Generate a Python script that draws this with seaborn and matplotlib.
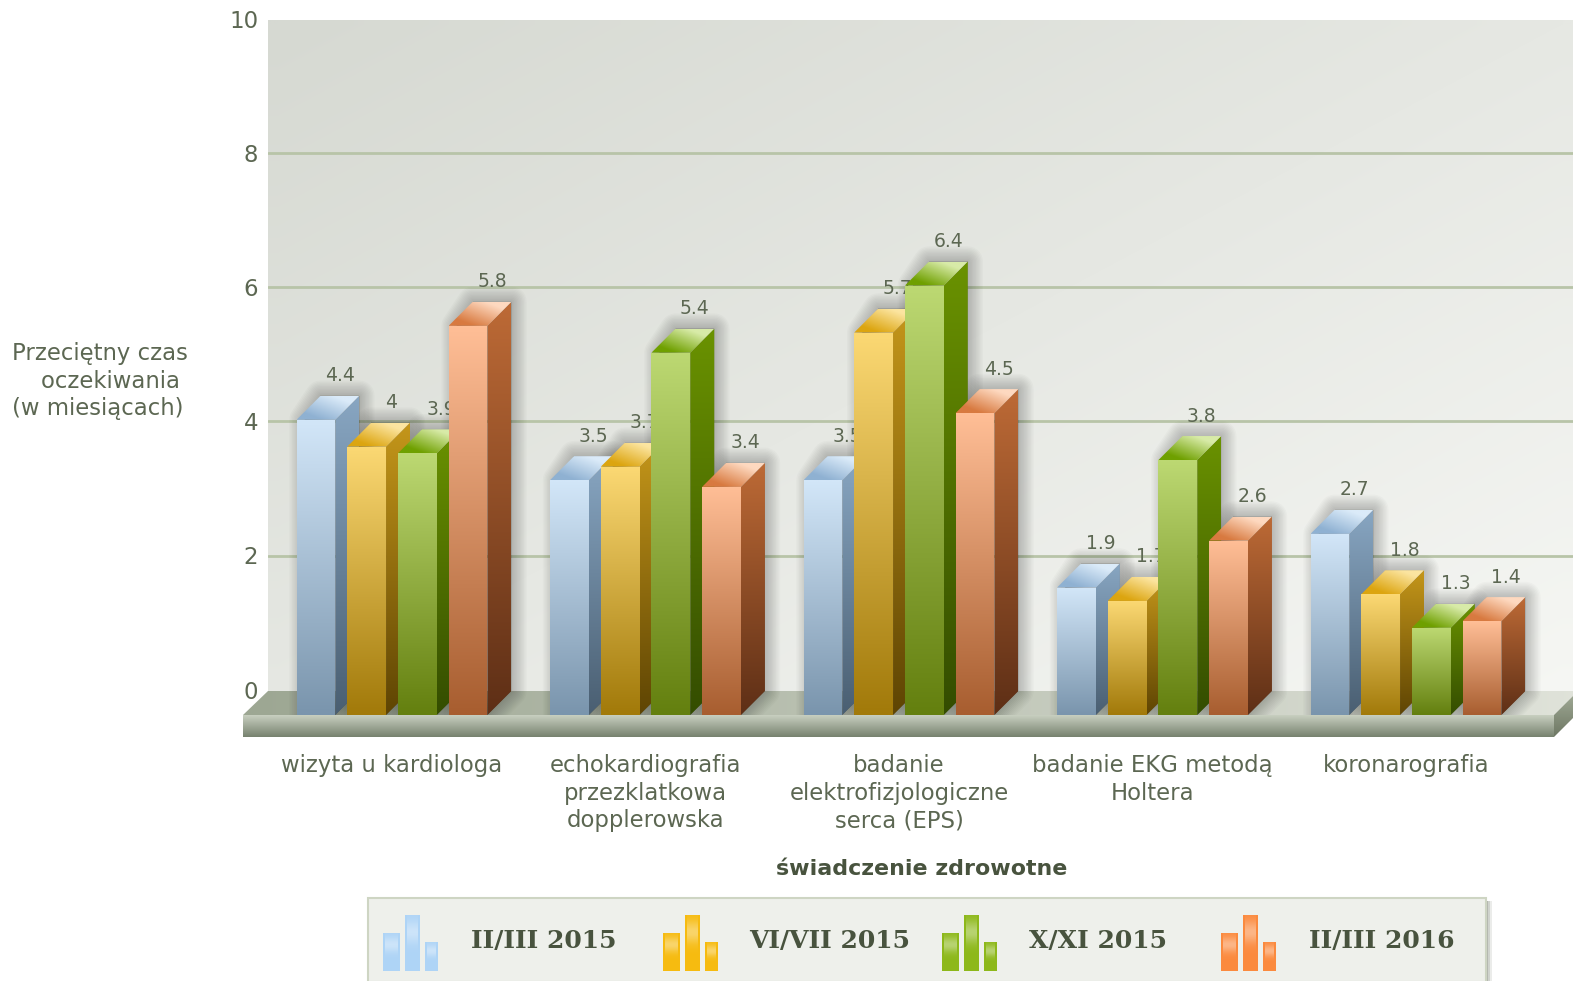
import numpy as np
import pandas as pd
import seaborn as sns
import matplotlib
matplotlib.use("Agg")
import matplotlib.pyplot as plt
from matplotlib.colors import to_rgb
from matplotlib.patches import Polygon, Rectangle

# chart values
uslugi = ["wizyta u kardiologa",
          "echokardiografia\nprzezklatkowa\ndopplerowska",
          "badanie\nelektrofizjologiczne\nserca (EPS)",
          "badanie EKG metodą\nHoltera",
          "koronarografia"]
okresy = ["II/III 2015", "VI/VII 2015", "X/XI 2015", "II/III 2016"]
w_2015_03 = [4.4, 3.5, 3.5, 1.9, 2.7]
w_2015_07 = [4, 3.7, 5.7, 1.7, 1.8]
w_2015_11 = [3.9, 5.4, 6.4, 3.8, 1.3]
w_2016_03 = [5.8, 3.4, 4.5, 2.6, 1.4]
y_ticks = [0, 2, 4, 6, 8, 10]

# colours of each series: front top/bottom, side top/bottom, roof dark/light, legend
kolory = [
    ("#d2e6f8", "#7a95ad", "#88a6c2", "#4a5f72", "#8fb1d2", "#dbebf9", "#aed4f6"),
    ("#fbd873", "#a27a0a", "#c4961a", "#5f4503", "#dca510", "#fce5a0", "#f6bb10"),
    ("#bcd872", "#64800f", "#6a9200", "#344d00", "#6fa000", "#d8eba8", "#8db81a"),
    ("#ffbe96", "#a85e30", "#bd6a36", "#5e2f16", "#d87a40", "#fed9c0", "#fb8a3e"),
]
tekst = "#5c6752"

W, H = 1573, 981
PX_Y = 67.1       # pixels per month
Y0 = 715          # pixel row of the front base
GX = 253.5        # pixels per category
CX = 392          # pixel column of first category
LEFT, TOP = 268, 19.5
DEPTH = 24

fig = plt.figure(figsize=(W / 100, H / 100), dpi=100, facecolor="white")
sns.set_style("white")
plt.rcParams["font.family"] = ["DejaVu Sans"]
ax = fig.add_axes([LEFT / W, 1 - Y0 / H, (W - LEFT) / W, (Y0 - TOP) / H])

df = pd.DataFrame({
    "usluga": uslugi * 4,
    "okres": np.repeat(okresy, 5),
    "czas": w_2015_03 + w_2015_07 + w_2015_11 + w_2016_03,
})
sns.barplot(data=df, x="usluga", y="czas", hue="okres", order=uslugi, hue_order=okresy,
            palette=[k[6] for k in kolory], width=0.8, gap=0.235, legend=False,
            errorbar=None, ax=ax)

xlim = ((LEFT - CX) / GX, (W - CX) / GX)
ylim = (0, (Y0 - TOP) / PX_Y)
dx = DEPTH / GX
dy = DEPTH / PX_Y
wall = 25.3 / PX_Y   # gridlines lie on the back wall


def px_x(p):
    return (p - CX) / GX


def px_y(p):
    return (Y0 - p) / PX_Y


def grad(verts, c0, c1, kier="v", z=3, poza=False):
    # gradient clipped to a polygon
    # v = top to bottom, h = left to right, d = lower left to upper right, w = upper left to lower right
    verts = np.array(verts)
    x0, x1 = verts[:, 0].min(), verts[:, 0].max()
    y0, y1 = verts[:, 1].min(), verts[:, 1].max()
    n = 64
    u, v = np.meshgrid(np.linspace(0, 1, n), np.linspace(0, 1, n))
    if kier == "v":
        t = v
    elif kier == "h":
        t = u
    elif kier == "w":
        t = (u + v) / 2
    else:
        t = np.clip(((u + (1 - v)) / 2 - 0.2) / 0.6, 0, 1)
    c0, c1 = np.array(to_rgb(c0)), np.array(to_rgb(c1))
    img = c0 + (c1 - c0) * t[..., None]
    im = ax.imshow(img, extent=(x0, x1, y0, y1), origin="upper", aspect="auto", zorder=z,
                   interpolation="bilinear")
    im.set_clip_path(Polygon(verts, transform=ax.transData))
    if poza:
        im.set_clip_box(fig.bbox)
    return im


# back wall
grad([(xlim[0], 0), (xlim[1], 0), (xlim[1], ylim[1]), (xlim[0], ylim[1])],
     "#d6d9d2", "#f6f7f4", "w", z=0)

# floor
xa, xb = px_x(243), px_x(1554)
grad([(xa, 0), (xb, 0), (xb + dx, dy), (xlim[1] + dx, dy), (xlim[0], dy)],
     "#9da793", "#e0e3da", "h", z=1, poza=True)
grad([(xa, 0), (xb, 0), (xb, px_y(737)), (xa, px_y(737))], "#c8cfc0", "#77826f", "v", z=2, poza=True)
grad([(xb, 0), (xb + dx, dy), (xb + dx, dy + px_y(737)), (xb, px_y(737))],
     "#a3ac98", "#6e7864", "v", z=2, poza=True)

# 3D bars built on what seaborn drew
for i, kont in enumerate(ax.containers):
    k = kolory[i]
    for j, bar in enumerate(kont):
        x, w, h = bar.get_x(), bar.get_width(), bar.get_height()
        z = 4 + i + j * 0.01
        bar.set_zorder(z)
        bar.set_linewidth(0)

        # soft shadow on the wall behind the bar
        xs = x + 8 / GX
        zarys = [(xs, 0), (xs, h), (x + dx, h + dy), (x + w + dx, h + dy), (x + w + dx, dy), (x + w, 0)]
        for lw in range(2, 24, 2):
            ax.add_patch(Polygon(zarys, closed=True, facecolor="black", edgecolor="black", lw=lw,
                                 alpha=0.02, joinstyle="round", zorder=3))

        grad([(x, 0), (x + w, 0), (x + w, h), (x, h)], k[0], k[1], "v", z=z + 0.003)
        grad([(x + w, 0), (x + w + dx, dy), (x + w + dx, h + dy), (x + w, h)], k[2], k[3], "v", z=z + 0.002)
        grad([(x, h), (x + w, h), (x + w + dx, h + dy), (x + dx, h + dy)], k[4], k[5], "d", z=z + 0.002)
        ax.text(x + w / 2 + dx, h + dy + 20 / PX_Y, f"{h:g}", ha="center", va="center",
                fontsize=13.5, color=tekst, zorder=z + 0.004)

ax.set_xlim(xlim)
ax.set_ylim(ylim)
for s in ax.spines.values():
    s.set_visible(False)

ax.set_yticks([t + wall for t in y_ticks[:-1]] + [ylim[1]], [str(t) for t in y_ticks])
ax.tick_params(axis="y", length=0, pad=7, labelsize=16.5, labelcolor=tekst)
ax.tick_params(axis="x", length=0, pad=28, labelsize=16.4, labelcolor=tekst)
for lab in ax.get_xticklabels():
    lab.set_linespacing(1.26)
ax.set_axisbelow(True)
ax.grid(False)
for t in y_ticks[1:-1]:
    ax.axhline(t + wall, color="#b8c4a8", lw=2, zorder=0.5)

ax.set_xlabel("świadczenie zdrowotne", fontsize=15.9, fontweight="bold", color="#48533e")
ax.xaxis.set_label_coords((922 - LEFT) / (W - LEFT), -(869 - Y0) / (Y0 - TOP))
ax.xaxis.label.set_va("center")
ax.set_ylabel("Przeciętny czas\n    oczekiwania\n(w miesiącach)", rotation=0, ha="left", va="center",
              fontsize=16.4, color=tekst, linespacing=1.27)
ax.yaxis.set_label_coords((12 - LEFT) / (W - LEFT), (Y0 - 381) / (Y0 - TOP))

# legend box with small bar icons
lg = fig.add_axes([0, 0, 1, 1], facecolor="none")
for off, a in [(6, 0.15), (4, 0.25), (2, 0.35)]:
    lg.add_patch(Rectangle((1480, 901), 6 + off, 82, facecolor="#7f8578", edgecolor="none", alpha=a))
lg.add_patch(Rectangle((368, 898), 1118, 84, facecolor="#eef0eb", edgecolor="#ced5c3", lw=1.5))
ikony = [383, 662.5, 942, 1221]
teksty = [471, 749, 1029, 1309]
blask = np.ones((64, 1, 4))
blask[:, 0, 3] = 0.38 * np.exp(-((np.linspace(0, 1, 64) - 0.3) / 0.2) ** 2)
for i, okres in enumerate(okresy):
    c = kolory[i][6]
    for off, szer, gora in [(0, 17, 933), (22, 15, 915), (42, 13, 942)]:
        lg.add_patch(Rectangle((ikony[i] + off, gora), szer, 971 - gora, facecolor=c, edgecolor="none"))
        lg.imshow(blask, extent=(ikony[i] + off + 2, ikony[i] + off + szer - 2, 971, gora), aspect="auto",
                  interpolation="bilinear", zorder=2)
    lg.text(teksty[i], 941, okres, fontsize=18, fontweight="bold", family="DejaVu Serif",
            color="#48533e", ha="left", va="center")
lg.set_xlim(0, W)
lg.set_ylim(H, 0)
lg.axis("off")

fig.savefig("out.png", dpi=100, facecolor="white")
